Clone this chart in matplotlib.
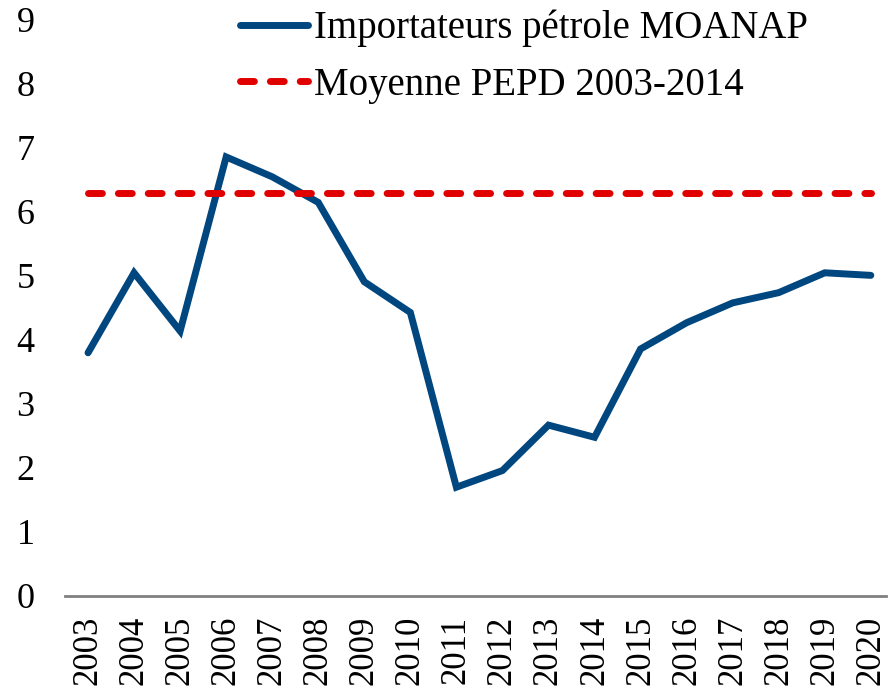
import matplotlib.pyplot as plt
import numpy as np

annees = [str(a) for a in range(2003, 2021)]
moanap = [3.80, 5.05, 4.14, 6.86, 6.55, 6.15, 4.91, 4.43, 1.70, 1.96,
          2.67, 2.48, 3.86, 4.27, 4.58, 4.74, 5.05, 5.01]
moyenne_pepd = [6.30] * len(annees)
yticks = list(range(0, 10))

plt.rcParams['font.family'] = ['Liberation Serif', 'DejaVu Serif']

fig = plt.figure(figsize=(8.88, 6.96), dpi=100)
ax = fig.add_axes([65 / 888, 1 - 596 / 696, (886 - 65) / 888, 576 / 696])

x = np.arange(len(annees))
ax.plot(x, moanap, color='#00467F', lw=5, solid_capstyle='round',
        solid_joinstyle='miter', label='Importateurs pétrole MOANAP')
ax.plot(x, moyenne_pepd, color='#E00000', lw=5, dashes=(2.0, 2.3),
        dash_capstyle='round', label='Moyenne PEPD 2003-2014')

ax.set_xlim(-0.5, 17.33)
ax.set_ylim(0, 9)
ax.set_yticks(yticks)
ax.set_xticks(x)
ax.set_xticklabels(annees, rotation=90)
ax.tick_params(axis='both', length=0, labelsize=26, colors='black')
ax.tick_params(axis='x', labelsize=25)
ax.tick_params(axis='y', pad=22)
ax.tick_params(axis='x', pad=14)
for s in ['top', 'right', 'left']:
    ax.spines[s].set_visible(False)
ax.spines['bottom'].set_color('#808080')
ax.spines['bottom'].set_linewidth(2)

ax.legend(loc='upper left', bbox_to_anchor=(232 / 888, 1 - 2 / 696),
          bbox_transform=fig.transFigure, frameon=False, fontsize=28,
          handlelength=1.75, handletextpad=0.15, labelspacing=0.5,
          borderpad=0.2, borderaxespad=0)

fig.savefig('out.png', dpi=100)
